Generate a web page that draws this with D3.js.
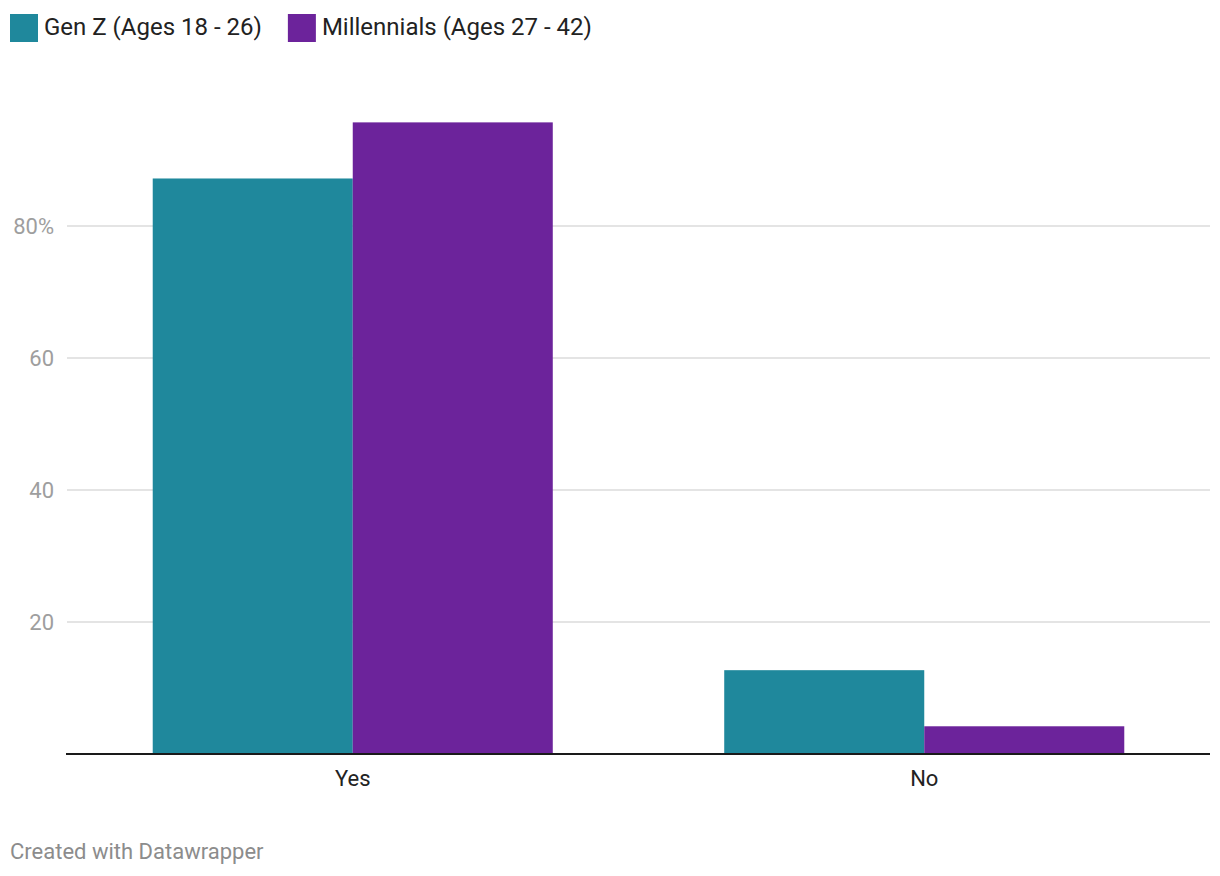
<!DOCTYPE html>
<html lang="en">
<head>
<meta charset="utf-8">
<title>Gen Z vs Millennials</title>
<script src="https://d3js.org/d3.v7.min.js"></script>
<style>
  body { margin: 0; background: #fff; font-family: Roboto, "Noto Sans", sans-serif; }
</style>
</head>
<body>
<svg width="1220" height="876"></svg>
<script>
var categories = ["Yes", "No"];
var seriesNames = ["Gen Z (Ages 18 - 26)", "Millennials (Ages 27 - 42)"];
var genZ = [87.2, 12.7];
var millennials = [95.7, 4.2];
var yTicks = [20, 40, 60, 80];
var colors = ["#1f889c", "#6c239b"];

var svg = d3.select("svg");
var marge = {left: 67, right: 10};
var baseY = 754;

var xScale = d3.scaleBand()
    .domain(categories)
    .range([marge.left, 1220 - marge.right])
    .paddingInner(0.3)
    .paddingOuter(0.15);
var xInner = d3.scaleBand()
    .domain([0, 1])
    .range([0, xScale.bandwidth()]);
var yScale = d3.scaleLinear()
    .domain([0, 80])
    .range([baseY, baseY - 80 * 6.6]);

// legend
var leg = svg.append("g");
var lx = 10;
seriesNames.forEach(function(name, i) {
    leg.append("rect").attr("x", lx).attr("y", 14).attr("width", 28).attr("height", 28)
        .attr("fill", colors[i]);
    var t = leg.append("text").attr("x", lx + 34).attr("y", 27).attr("dy", "0.35em")
        .attr("font-size", 24).attr("fill", "#222").text(name);
    lx += 34 + t.node().getComputedTextLength() + 26;
});

// grid lines
svg.append("g").selectAll("line").data(yTicks).enter().append("line")
    .attr("x1", 67).attr("x2", 1210)
    .attr("y1", function(d) { return yScale(d); })
    .attr("y2", function(d) { return yScale(d); })
    .attr("stroke", "#e4e4e4").attr("stroke-width", 2);

svg.append("g").selectAll("text").data(yTicks).enter().append("text")
    .attr("x", 54).attr("y", function(d) { return yScale(d); }).attr("dy", "0.35em")
    .attr("text-anchor", "end").attr("font-size", 22).attr("fill", "#9e9e9e")
    .text(function(d) { return d === 80 ? d + "%" : d; });

// bars
var series = [genZ, millennials];
series.forEach(function(vals, s) {
    svg.append("g").selectAll("rect").data(vals).enter().append("rect")
        .attr("x", function(d, i) { return xScale(categories[i]) + xInner(s); })
        .attr("y", function(d) { return yScale(d); })
        .attr("width", xInner.bandwidth())
        .attr("height", function(d) { return baseY - yScale(d); })
        .attr("fill", colors[s]);
});

// baseline + category labels
svg.append("line").attr("x1", 66).attr("x2", 1210).attr("y1", baseY).attr("y2", baseY)
    .attr("stroke", "#1a1a1a").attr("stroke-width", 2);
svg.append("g").selectAll("text").data(categories).enter().append("text")
    .attr("x", function(d) { return xScale(d) + xScale.bandwidth() / 2; })
    .attr("y", 778).attr("dy", "0.35em").attr("text-anchor", "middle")
    .attr("font-size", 22).attr("fill", "#222").text(function(d) { return d; });

svg.append("text").attr("x", 10).attr("y", 851).attr("dy", "0.35em")
    .attr("font-size", 22).attr("fill", "#8c8c8c").text("Created with Datawrapper");
</script>
</body>
</html>
